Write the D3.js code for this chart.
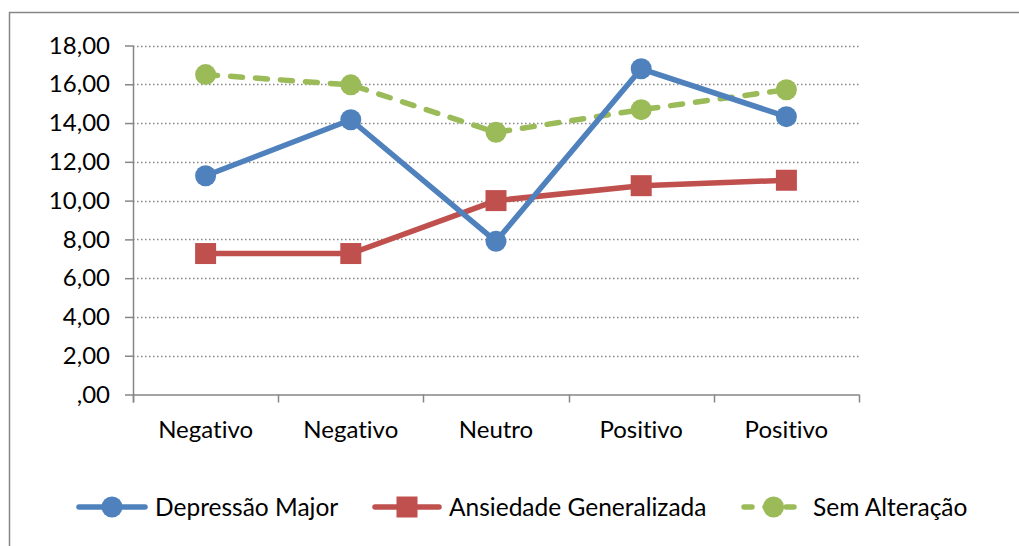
<!DOCTYPE html>
<html>
<head>
<meta charset="utf-8">
<script src="https://cdn.jsdelivr.net/npm/d3@7"></script>
<style>
  body { margin: 0; background: #fff; }
  svg { display: block; font-family: Lato, "Open Sans", sans-serif; font-variant-ligatures: none; font-feature-settings: "liga" 0; }
</style>
</head>
<body>
<div class="chart"></div>
<script>
const svgWidth = 1019;
const svgHeight = 546;

// data
const categories = ["Negativo", "Negativo", "Neutro", "Positivo", "Positivo"];
const depressao = [11.28, 14.17, 7.9, 16.8, 14.33];
const ansiedade = [7.27, 7.27, 10.0, 10.77, 11.05];
const semAlteracao = [16.5, 15.97, 13.52, 14.69, 15.72];
const yTicks = [0, 2, 4, 6, 8, 10, 12, 14, 16, 18];
const seriesNames = ["Depressão Major", "Ansiedade Generalizada", "Sem Alteração"];

const colors = ["#4F81BD", "#C0504D", "#9BBB59"];
const axisColor = "#868686";

const plot = { left: 133, right: 859, top: 45.5, bottom: 394.5 };

const svg = d3.select(".chart")
  .append("svg")
  .attr("width", svgWidth)
  .attr("height", svgHeight);

// outer frame (runs off the right and bottom edges)
svg.append("rect")
  .attr("x", 9.5)
  .attr("y", 12.5)
  .attr("width", svgWidth + 20)
  .attr("height", svgHeight + 20)
  .attr("fill", "none")
  .attr("stroke", axisColor)
  .attr("stroke-width", 1.5);

// scales
const x = d3.scaleBand()
  .domain(d3.range(categories.length))
  .range([plot.left, plot.right]);
const cx = i => x(i) + x.bandwidth() / 2;

const y = d3.scaleLinear()
  .domain([0, 18])
  .range([plot.bottom, plot.top]);

// gridlines
svg.append("g")
  .selectAll("line")
  .data(yTicks.filter(d => d > 0))
  .join("line")
  .attr("x1", plot.left)
  .attr("x2", plot.right)
  .attr("y1", d => Math.round(y(d)) + 0.5)
  .attr("y2", d => Math.round(y(d)) + 0.5)
  .attr("stroke", axisColor)
  .attr("stroke-width", 1.3)
  .attr("stroke-dasharray", "1.5,2.5");

// y axis
const fmt = d => d === 0 ? ",00" : d.toFixed(2).replace(".", ",");
const yAxis = svg.append("g")
  .attr("transform", `translate(${plot.left},0)`)
  .call(d3.axisLeft(y).tickValues(yTicks).tickFormat(fmt).tickSize(8).tickPadding(15));
yAxis.select(".domain").attr("stroke", axisColor).attr("stroke-width", 1.5)
  .attr("d", `M0.5,${plot.top}V${plot.bottom + 8}`);
yAxis.selectAll(".tick line").attr("stroke", axisColor).attr("stroke-width", 1.5);
yAxis.selectAll("text").attr("font-size", 24).attr("fill", "#000")
  .attr("font-family", "Lato, sans-serif");

// x axis
const xAxis = svg.append("g")
  .attr("transform", `translate(0,${plot.bottom})`)
  .call(d3.axisBottom(x).tickFormat(i => categories[i]).tickSize(0).tickPadding(26));
xAxis.select(".domain").attr("stroke", axisColor).attr("stroke-width", 1.5)
  .attr("d", `M${plot.left},0.5H${plot.right}`);
xAxis.selectAll("text").attr("font-size", 24).attr("fill", "#000")
  .attr("font-family", "Lato, sans-serif");
xAxis.append("g")
  .selectAll("line")
  .data(d3.range(categories.length + 1))
  .join("line")
  .attr("x1", i => Math.round(plot.left + i * x.step()) + 0.5)
  .attr("x2", i => Math.round(plot.left + i * x.step()) + 0.5)
  .attr("y1", 0)
  .attr("y2", 8)
  .attr("stroke", axisColor)
  .attr("stroke-width", 1.5);

// series
const line = d3.line()
  .x((d, i) => cx(i))
  .y(d => y(d));

function drawMarker(g, kind, color, px, py) {
  if (kind === "square") {
    g.append("rect")
      .attr("x", px - 10.5).attr("y", py - 10.5)
      .attr("width", 21).attr("height", 21)
      .attr("fill", color);
  } else {
    g.append("circle")
      .attr("cx", px).attr("cy", py).attr("r", 10.5)
      .attr("fill", color);
  }
}

const series = [
  { name: seriesNames[0], values: depressao, color: colors[0], marker: "circle", dash: null },
  { name: seriesNames[1], values: ansiedade, color: colors[1], marker: "square", dash: null },
  { name: seriesNames[2], values: semAlteracao, color: colors[2], marker: "circle", dash: "12,13" }
];

// draw in reverse so blue ends up on top like the original
[series[2], series[1], series[0]].forEach(s => {
  const g = svg.append("g");
  g.append("path")
    .attr("d", line(s.values))
    .attr("fill", "none")
    .attr("stroke", s.color)
    .attr("stroke-width", 5.5)
    .attr("stroke-linejoin", "round")
    .attr("stroke-linecap", "round")
    .attr("stroke-dasharray", s.dash);
  s.values.forEach((v, i) => drawMarker(g, s.marker, s.color, cx(i), y(v)));
});

// legend
const legendY = 507;
const legendX = [76, 372, 741];
const legendW = [72, 70, 65];
series.forEach((s, k) => {
  const g = svg.append("g");
  g.append("line")
    .attr("x1", legendX[k] + 3).attr("x2", legendX[k] + legendW[k] - 3)
    .attr("y1", legendY).attr("y2", legendY)
    .attr("stroke", s.color)
    .attr("stroke-width", 5.5)
    .attr("stroke-linecap", "round")
    .attr("stroke-dasharray", s.dash ? "8,13" : null);
  drawMarker(g, s.marker, s.color, legendX[k] + legendW[k] / 2, legendY);
  g.append("text")
    .attr("x", legendX[k] + legendW[k] + 7)
    .attr("y", legendY)
    .attr("dy", "0.35em")
    .attr("font-size", 24.5)
    .text(s.name);
});
</script>
</body>
</html>
